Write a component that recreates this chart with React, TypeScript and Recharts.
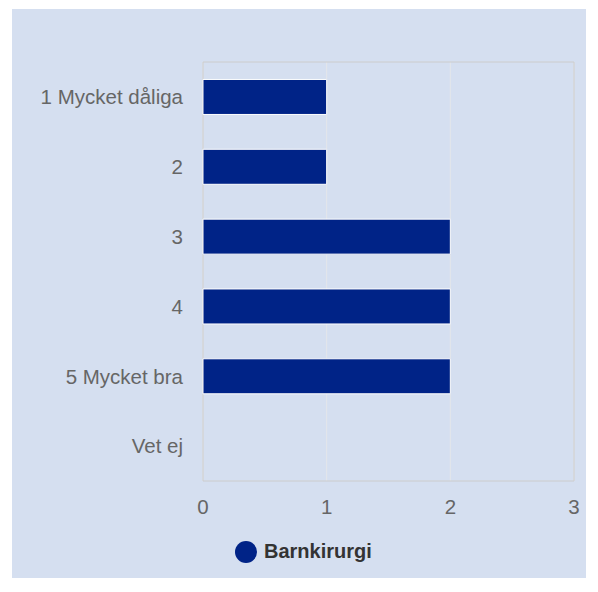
import { BarChart, Bar, XAxis, YAxis, CartesianGrid, Legend, ReferenceArea } from 'recharts';

// Svarsalternativ och antal svar
const categories = ['1 Mycket dåliga', '2', '3', '4', '5 Mycket bra', 'Vet ej'];
const barnkirurgi = [1, 1, 2, 2, 2, 0];
const xTicks = [0, 1, 2, 3];

const BAR_COLOR = '#002387';
const FONT = '"Liberation Sans", Arial, sans-serif';

const data = categories.map((name, i) => ({ name, value: barnkirurgi[i] }));

const tickStyle = { fill: '#666', fontSize: 20.5, fontFamily: FONT };

const renderLegend = () => (
  <div style={{ display: 'flex', alignItems: 'center', paddingLeft: 223, paddingTop: 19, fontFamily: FONT }}>
    <span
      style={{ width: 22, height: 22, borderRadius: 11, background: BAR_COLOR, display: 'inline-block' }}
    />
    <span style={{ marginLeft: 7, fontWeight: 'bold', fontSize: 20, color: '#333' }}>Barnkirurgi</span>
  </div>
);

export default function App() {
  return (
    <div style={{ position: 'absolute', left: 0, top: 0, width: 598, height: 592, background: '#fff' }}>
      <div style={{ position: 'absolute', left: 12, top: 9, width: 574, height: 569, background: '#d5dff0' }}>
        <BarChart
          width={574}
          height={569}
          data={data}
          layout="vertical"
          barCategoryGap="25%"
          margin={{ top: 53, right: 12, bottom: 0, left: 0 }}
          style={{ fontFamily: FONT }}
        >
          <CartesianGrid horizontal={false} stroke="#e4e6ea" strokeWidth={1} />
          <ReferenceArea x1={0} x2={3} fill="none" stroke="#cccccc" strokeWidth={1} ifOverflow="visible" />
          <XAxis
            type="number"
            domain={[0, 3]}
            ticks={xTicks}
            axisLine={false}
            tickLine={false}
            tickSize={0}
            tickMargin={18}
            height={40}
            tick={tickStyle}
          />
          <YAxis
            type="category"
            dataKey="name"
            width={191}
            axisLine={false}
            tickLine={false}
            tickSize={0}
            tickMargin={20}
            tick={tickStyle}
            interval={0}
          />
          <Legend verticalAlign="bottom" height={57} content={renderLegend} />
          <Bar dataKey="value" name="Barnkirurgi" fill={BAR_COLOR} stroke="#fff" strokeWidth={1} isAnimationActive={false} />
        </BarChart>
      </div>
    </div>
  );
}
